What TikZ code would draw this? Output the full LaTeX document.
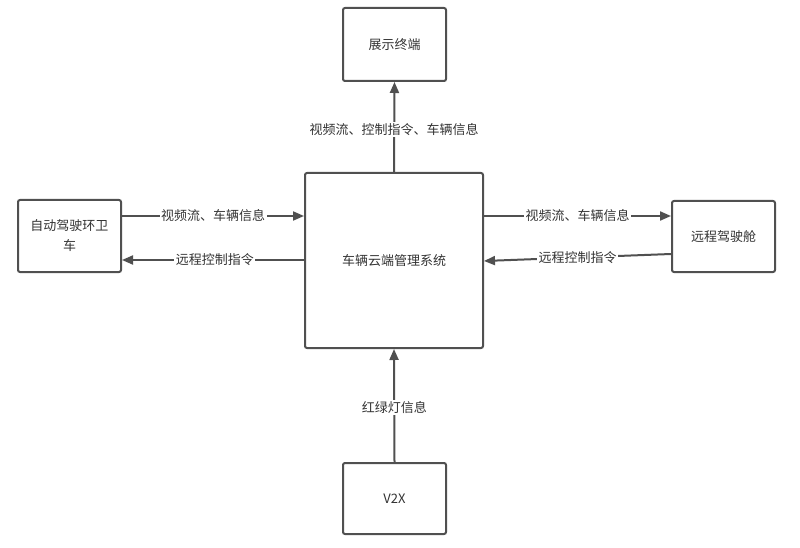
\documentclass[tikz,border=0pt]{standalone}
\usepackage{fontspec}
\newfontfamily\cjk{Noto Sans CJK SC}
\usetikzlibrary{arrows.meta}
\definecolor{linec}{HTML}{505050}
\definecolor{textc}{HTML}{333333}
\begin{document}
\begin{tikzpicture}[x=1pt,y=-1pt,
  font=\cjk\fontsize{13}{20}\selectfont,
  boxstyle/.style={draw=linec,line width=2pt,rounded corners=2pt,fill=white,text=textc,align=center,inner sep=0pt},
  conn/.style={draw=linec,line width=2pt,-{Triangle[length=11pt,width=9pt]}},
  lbl/.style={fill=white,text=textc,inner sep=1.5pt}]
\useasboundingbox[fill=white] (0,0) rectangle (800,548);
\node[boxstyle,minimum width=103pt,minimum height=73pt] (top) at (394.5,44.5) {展示终端};
\node[boxstyle,minimum width=178pt,minimum height=175pt] (c) at (394,260.5) {车辆云端管理系统};
\node[boxstyle,minimum width=103pt,minimum height=72pt] (l) at (69.5,236) {自动驾驶环卫\\车};
\node[boxstyle,minimum width=103pt,minimum height=71pt] (r) at (723.5,236.5) {远程驾驶舱};
\node[boxstyle,minimum width=103pt,minimum height=71pt] (b) at (394.5,498.5) {V2X};
% top
\draw[conn] (c.north) -- (top.south) node[lbl,pos=0.47] {视频流、控制指令、车辆信息};
% bottom
\draw[conn] (b.north) -- (c.south) node[lbl,pos=0.48] {红绿灯信息};
% left
\coordinate (l1) at (l.east |- 0,216);
\coordinate (c1) at (c.west |- 0,216);
\draw[conn] (l1) -- (c1) node[lbl,pos=0.5] {视频流、车辆信息};
\coordinate (c2) at (c.west |- 0,260);
\coordinate (l2) at (l.east |- 0,260);
\draw[conn] (c2) -- (l2) node[lbl,pos=0.49] {远程控制指令};
% right
\coordinate (c3) at (c.east |- 0,216);
\coordinate (r3) at (r.west |- 0,216);
\draw[conn] (c3) -- (r3) node[lbl,pos=0.5] {视频流、车辆信息};
\coordinate (r4) at (r.west |- 0,254);
\coordinate (c4) at (c.east |- 0,261);
\draw[conn] (r4) -- (c4) node[lbl,pos=0.5] {远程控制指令};
\end{tikzpicture}
\end{document}
